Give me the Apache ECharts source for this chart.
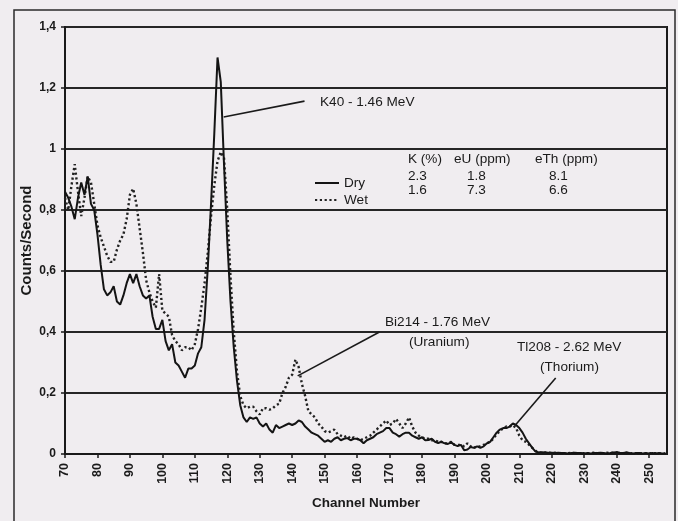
<!DOCTYPE html>
<html>
<head>
<meta charset="utf-8">
<script src="https://cdn.jsdelivr.net/npm/echarts@6/dist/echarts.min.js"></script>
<style>
html,body{margin:0;padding:0;background:#f0edf0;}
#chart{width:678px;height:521px;}
</style>
</head>
<body>
<div id="chart"></div>
<script>
// ---- data (channels start at 70, one value per channel) ----
const firstChannel = 70;
const dryCounts = [
  0.86,0.84,0.81,0.77,0.84,0.89,0.85,0.91,0.82,0.80,
  0.72,0.62,0.54,0.52,0.53,0.55,0.50,0.49,0.52,0.56,
  0.59,0.56,0.59,0.55,0.52,0.51,0.52,0.45,0.41,0.41,
  0.44,0.37,0.34,0.36,0.30,0.29,0.27,0.25,0.28,0.28,
  0.29,0.33,0.35,0.44,0.61,0.82,1.05,1.30,1.22,0.95,
  0.70,0.50,0.35,0.24,0.16,0.12,0.105,0.12,0.115,0.12,
  0.10,0.09,0.10,0.08,0.07,0.095,0.085,0.09,0.095,0.10,
  0.095,0.10,0.11,0.105,0.09,0.08,0.07,0.065,0.06,0.05,
  0.04,0.045,0.04,0.05,0.055,0.045,0.05,0.052,0.045,0.05,
  0.05,0.045,0.035,0.045,0.05,0.055,0.065,0.07,0.075,0.085,
  0.085,0.07,0.065,0.057,0.065,0.07,0.07,0.06,0.055,0.05,
  0.055,0.045,0.046,0.05,0.04,0.036,0.04,0.035,0.033,0.038,
  0.03,0.026,0.03,0.012,0.015,0.023,0.02,0.025,0.02,0.025,
  0.035,0.04,0.055,0.07,0.08,0.085,0.085,0.09,0.10,0.095,
  0.085,0.07,0.05,0.035,0.02,0.008,0.005,0.006,0.005,0.004,
  0.004,0.003,0.004,0.003,0.003,0.002,0.003,0.004,0.003,0.003,
  0.002,0.003,0.002,0.003,0.003,0.004,0.003,0.002,0.003,0.005,
  0.006,0.004,0.003,0.005,0.003,0.002,0.003,0.003,0.002,0.003,
  0.002,0.003,0.002,0.003,0.002,0.002
];
const wetCounts = [
  0.84,0.80,0.88,0.95,0.86,0.78,0.84,0.91,0.89,0.82,
  0.75,0.71,0.68,0.65,0.63,0.63,0.67,0.70,0.72,0.77,
  0.85,0.87,0.82,0.74,0.66,0.57,0.53,0.50,0.48,0.59,
  0.47,0.46,0.45,0.39,0.37,0.36,0.34,0.35,0.35,0.34,
  0.36,0.41,0.48,0.56,0.66,0.78,0.88,0.96,0.99,0.97,
  0.80,0.58,0.40,0.27,0.19,0.16,0.15,0.155,0.155,0.14,
  0.13,0.15,0.15,0.145,0.15,0.16,0.165,0.20,0.22,0.25,
  0.26,0.31,0.285,0.23,0.19,0.14,0.13,0.12,0.10,0.09,
  0.075,0.07,0.075,0.08,0.065,0.06,0.055,0.06,0.05,0.055,
  0.05,0.045,0.05,0.055,0.06,0.07,0.08,0.09,0.10,0.11,
  0.095,0.10,0.115,0.10,0.085,0.10,0.12,0.09,0.07,0.06,
  0.055,0.05,0.05,0.045,0.045,0.04,0.04,0.035,0.035,0.04,
  0.03,0.03,0.03,0.025,0.035,0.025,0.02,0.025,0.025,0.03,
  0.035,0.04,0.05,0.065,0.075,0.085,0.09,0.09,0.095,0.085,
  0.06,0.045,0.04,0.03,0.02,0.01,0.005,0.004,0.005,0.004,
  0.003,0.004,0.003,0.003,0.002,0.003,0.004,0.003,0.002,0.003,
  0.003,0.002,0.003,0.004,0.003,0.002,0.003,0.004,0.003,0.004,
  0.005,0.003,0.003,0.004,0.002,0.003,0.002,0.003,0.003,0.002,
  0.003,0.002,0.003,0.002,0.002,0.002
];
const xTicks = [70,80,90,100,110,120,130,140,150,160,170,180,190,200,210,220,230,240,250];
const seriesNames = ['Dry','Wet'];
const tableHeaders = ['K (%)','eU (ppm)','eTh (ppm)'];
const dryTable = ['2.3','1.8','8.1'];
const wetTable = ['1.6','7.3','6.6'];
// annotation leader lines in data coordinates [channel, counts]
const k40Leader = [[118.9,1.105],[143.8,1.157]];
const bi214Leader = [[141.7,0.256],[166.9,0.40]];
const tl208Leader = [[208.8,0.095],[221.2,0.249]];

const toPairs = arr => arr.map((v,i)=>[firstChannel+i, v]);
const FONT = "'Liberation Sans', Arial, sans-serif";
const ink = '#1a1a1a';
const ANN = '13.6px ' + FONT;

const chart = echarts.init(document.getElementById('chart'));
const leader = pts => [{coord: pts[0]},{coord: pts[1]}];

chart.setOption({
  animation: false,
  backgroundColor: '#f0edf0',
  grid: {left: 65, top: 27, right: 11, bottom: 67, show: true, borderColor: ink, borderWidth: 2, backgroundColor: 'transparent'},
  legend: {
    data: seriesNames, orient: 'vertical', left: 309, top: 171,
    itemWidth: 24, itemHeight: 11, itemGap: 3,
    itemStyle: {opacity: 0},
    textStyle: {fontFamily: FONT, fontSize: 13.6, lineHeight: 11, color: ink},
    selectedMode: false
  },
  xAxis: {
    type: 'value', min: 70, max: 255.5,
    name: 'Channel Number', nameLocation: 'middle', nameGap: 42,
    nameMoveOverlap: false,
    nameTextStyle: {fontFamily: FONT, fontSize: 13.5, fontWeight: 'bold', color: ink},
    axisLine: {show: true, onZero: false, lineStyle: {color: ink, width: 2}},
    axisTick: {show: true, length: 4, customValues: xTicks, lineStyle: {color: ink, width: 1.5}},
    axisLabel: {customValues: xTicks, rotate: 90, margin: 9, fontFamily: FONT, fontSize: 12.5, fontWeight: 'bold', color: ink},
    splitLine: {show: false}
  },
  yAxis: {
    type: 'value', min: 0, max: 1.4, interval: 0.2,
    name: 'Counts/Second', nameLocation: 'middle', nameGap: 31, nameRotate: 90,
    nameMoveOverlap: false,
    nameTextStyle: {fontFamily: FONT, fontSize: 15, fontWeight: 'bold', color: ink},
    axisLine: {show: true, lineStyle: {color: ink, width: 2}},
    axisTick: {show: true, length: 4, lineStyle: {color: ink, width: 1.5}},
    axisLabel: {
      margin: 9, fontFamily: FONT, fontSize: 12, fontWeight: 'bold', color: ink,
      formatter: v => { const r = Math.round(v*10)/10; return Number.isInteger(r) ? String(r) : r.toFixed(1).replace('.', ','); }
    },
    splitLine: {show: true, lineStyle: {color: '#262626', width: 2}}
  },
  series: [
    {
      name: 'Dry', type: 'line', data: toPairs(dryCounts), symbol: 'none', z: 3,
      itemStyle: {color: '#141414'},
      lineStyle: {color: '#141414', width: 2},
      markLine: {
        silent: true, symbol: ['none','none'], label: {show: false},
        lineStyle: {color: ink, width: 1.6, type: 'solid'},
        data: [leader(k40Leader), leader(bi214Leader), leader(tl208Leader)]
      }
    },
    {
      name: 'Wet', type: 'line', data: toPairs(wetCounts), symbol: 'none', z: 2,
      itemStyle: {color: '#222'},
      lineStyle: {color: '#222', width: 2.4, type: [2.2, 2.6], cap: 'butt'}
    }
  ],
  graphic: [
    {type: 'rect', shape: {x: 14, y: 10, width: 661, height: 520}, style: {fill: 'none', stroke: '#2a2a2a', lineWidth: 1.5}, silent: true},
    {type: 'text', left: 320, top: 95, style: {text: 'K40 - 1.46 MeV', font: ANN, fill: ink}},
    {type: 'text', left: 385, top: 315, style: {text: 'Bi214 - 1.76 MeV', font: ANN, fill: ink}},
    {type: 'text', left: 409, top: 335, style: {text: '(Uranium)', font: ANN, fill: ink}},
    {type: 'text', left: 517, top: 340, style: {text: 'Tl208 - 2.62 MeV', font: ANN, fill: ink}},
    {type: 'text', left: 540, top: 360, style: {text: '(Thorium)', font: ANN, fill: ink}},
    {type: 'text', left: 408, top: 152, style: {text: tableHeaders[0], font: ANN, fill: ink}},
    {type: 'text', left: 454, top: 152, style: {text: tableHeaders[1], font: ANN, fill: ink}},
    {type: 'text', left: 535, top: 152, style: {text: tableHeaders[2], font: ANN, fill: ink}},
    {type: 'text', left: 408, top: 169, style: {text: dryTable[0], font: ANN, fill: ink}},
    {type: 'text', left: 467, top: 169, style: {text: dryTable[1], font: ANN, fill: ink}},
    {type: 'text', left: 549, top: 169, style: {text: dryTable[2], font: ANN, fill: ink}},
    {type: 'text', left: 408, top: 183, style: {text: wetTable[0], font: ANN, fill: ink}},
    {type: 'text', left: 467, top: 183, style: {text: wetTable[1], font: ANN, fill: ink}},
    {type: 'text', left: 549, top: 183, style: {text: wetTable[2], font: ANN, fill: ink}}
  ]
});
</script>
</body>
</html>
